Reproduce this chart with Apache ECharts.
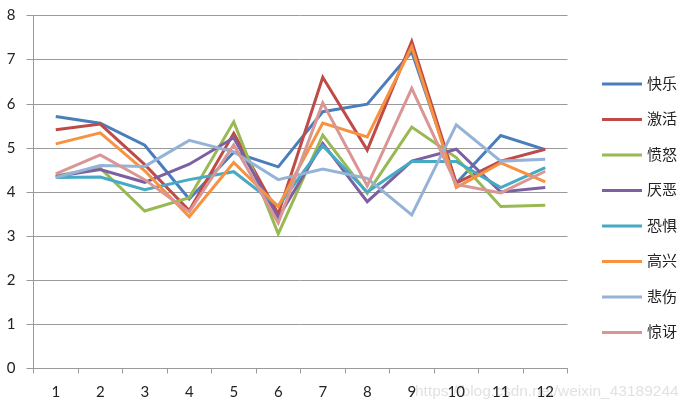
<!DOCTYPE html>
<html>
<head>
<meta charset="utf-8">
<script src="https://cdn.jsdelivr.net/npm/echarts@6/dist/echarts.min.js"></script>
<style>html,body{margin:0;padding:0;background:#fff}#c{width:692px;height:412px}</style>
</head>
<body>
<div id="c"></div>
<script>
const categories = ['1','2','3','4','5','6','7','8','9','10','11','12'];
const seriesNames = ['快乐','激活','愤怒','厌恶','恐惧','高兴','悲伤','惊讶'];
const kuaile = [5.71, 5.56, 5.06, 3.84, 4.9, 4.57, 5.82, 5.99, 7.18, 4.2, 5.28, 4.96];
const jihuo  = [5.41, 5.54, 4.62, 3.58, 5.33, 3.5, 6.6, 4.95, 7.41, 4.2, 4.7, 4.97];
const fennu  = [4.37, 4.54, 3.57, 3.87, 5.59, 3.05, 5.29, 3.97, 5.47, 4.78, 3.67, 3.7];
const yanwu  = [4.35, 4.51, 4.22, 4.63, 5.23, 3.42, 5.1, 3.78, 4.7, 4.97, 4.0, 4.1];
const kongju = [4.33, 4.34, 4.05, 4.28, 4.46, 3.68, 5.05, 4.0, 4.69, 4.69, 4.1, 4.55];
const gaoxing= [5.09, 5.34, 4.48, 3.44, 4.67, 3.67, 5.56, 5.25, 7.29, 4.1, 4.66, 4.23];
const beishang=[4.33, 4.6, 4.58, 5.17, 4.91, 4.28, 4.52, 4.31, 3.48, 5.52, 4.7, 4.74];
const jingya = [4.41, 4.84, 4.28, 3.55, 5.07, 3.3, 6.02, 4.14, 6.35, 4.17, 3.98, 4.47];
const yTicks = [0,1,2,3,4,5,6,7,8];

const allData = [kuaile, jihuo, fennu, yanwu, kongju, gaoxing, beishang, jingya];
const colors = ['#4A7EBB','#BE4B48','#98B954','#7D60A0','#46AAC5','#F69240','#95B3D7','#D99694'];
const font = 'Lato, "Noto Sans CJK SC", sans-serif';

const chart = echarts.init(document.getElementById('c'));
chart.setOption({
  animation: false,
  color: colors,
  grid: {left: 33.5, right: 124.5, top: 15.5, bottom: 43.5, containLabel: false},
  legend: {
    orient: 'vertical', left: 597, top: 70,
    icon: 'rect', itemWidth: 40, itemHeight: 3, itemGap: 17.5,
    data: seriesNames,
    textStyle: {fontFamily: font, fontSize: 15, lineHeight: 18, color: '#222'}
  },
  xAxis: {
    type: 'category', data: categories, boundaryGap: true,
    axisLine: {lineStyle: {color: '#9a9a9a', width: 1}},
    axisTick: {show: true, length: 5, lineStyle: {color: '#9a9a9a'}},
    axisLabel: {fontFamily: font, fontSize: 15, color: '#222', margin: 16}
  },
  yAxis: {
    type: 'value', min: yTicks[0], max: yTicks[yTicks.length-1], interval: 1,
    axisLine: {show: true, lineStyle: {color: '#9a9a9a', width: 1}},
    axisTick: {show: true, length: 7, lineStyle: {color: '#9a9a9a'}},
    splitLine: {show: true, lineStyle: {color: '#9a9a9a', width: 1}},
    axisLabel: {fontFamily: font, fontSize: 15, color: '#222', margin: 18}
  },
  graphic: [{
    type: 'text', left: 415, top: 384, silent: true,
    style: {text: 'https://blog.csdn.net/weixin_43189244', fill: 'rgba(200,200,200,0.55)', font: '15.5px "Liberation Sans", sans-serif'}
  }],
  series: seriesNames.map((n, i) => ({
    name: n, type: 'line', data: allData[i], symbol: 'none',
    lineStyle: {width: 3, color: colors[i], join: 'miter'},
    itemStyle: {color: colors[i]}
  }))
});
</script>
</body>
</html>
